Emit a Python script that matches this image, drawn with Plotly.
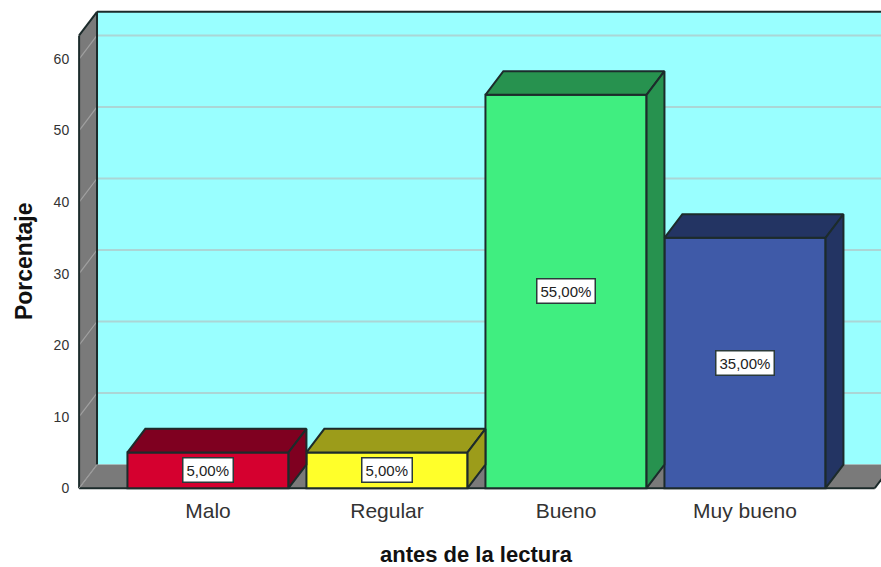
import plotly.graph_objects as go

categories = ["Malo", "Regular", "Bueno", "Muy bueno"]
values = [5, 5, 55, 35]
labels = ["5,00%", "5,00%", "55,00%", "35,00%"]
front_colors = ["#D5002F", "#FFFF2A", "#40EE80", "#3F5AA8"]
shade_colors = ["#7F0020", "#9C9C1A", "#27924F", "#233463"]
y_ticks = [0, 10, 20, 30, 40, 50, 60]

BAR_W = 0.9
DX = 0.1      # depth of the 3D box, x units
DY = 3.3      # depth of the 3D box, y units
X0 = -0.72    # front-left corner of the floor
X1 = 3.725    # front-right corner of the floor
X_RANGE = [-0.7374, 3.7598]
Y_TOP = 66.6
Y_RANGE = [-0.4, 67.0]
EDGE = "#1c2b2b"
WALL = "#7A7A7A"

xs = list(range(len(categories)))
fig = go.Figure()


def path(points):
    return "M " + " L ".join(f"{x} {y}" for x, y in points) + " Z"


shapes = [
    # back wall
    dict(type="path", path=path([(X0 + DX, DY), (X1 + DX + 1, DY), (X1 + DX + 1, Y_TOP), (X0 + DX, Y_TOP)]),
         fillcolor="#99FFFF", line=dict(width=0)),
    # floor
    dict(type="path", path=path([(X0, 0), (X0 + DX, DY), (X1 + DX, DY), (X1, 0)]),
         fillcolor=WALL, line=dict(width=0)),
    # left wall
    dict(type="path", path=path([(X0, 0), (X0 + DX, DY), (X0 + DX, Y_TOP), (X0, Y_TOP - DY)]),
         fillcolor=WALL, line=dict(width=0)),
]
for t in y_ticks:
    shapes.append(dict(type="line", x0=X0, y0=t, x1=X0 + DX, y1=t + DY,
                       line=dict(color="#A0A0A0", width=1.2)))
    if t > 0:
        shapes.append(dict(type="line", x0=X0 + DX, y0=t + DY, x1=X1 + DX + 1, y1=t + DY,
                           line=dict(color="#ABD6D6", width=2)))
# outlines
for a, b in [((X0, 0), (X0, Y_TOP - DY)), ((X0, Y_TOP - DY), (X0 + DX, Y_TOP)),
             ((X0 + DX, Y_TOP), (X1 + DX + 1, Y_TOP)), ((X0 + DX, DY), (X0 + DX, Y_TOP)),
             ((X0, 0), (X1, 0)), ((X1, 0), (X1 + DX, DY)), ((X0, 0), (X0 + DX, DY))]:
    w = 1.0 if a == (X0, 0) and b == (X0 + DX, DY) else 2
    c = "#9a9a9a" if w == 1.0 else EDGE
    shapes.append(dict(type="line", x0=a[0], y0=a[1], x1=b[0], y1=b[1], line=dict(color=c, width=w)))
for s in shapes:
    s["layer"] = "below"

fig.add_trace(go.Bar(x=xs, y=values, width=BAR_W, marker=dict(color=front_colors, line=dict(color=EDGE, width=2)),
                     hoverinfo="skip", showlegend=False))

for x, v, shade in zip(xs, values, shade_colors):
    l, r = x - BAR_W / 2, x + BAR_W / 2
    fig.add_trace(go.Scatter(x=[l, l + DX, r + DX, r, l], y=[v, v + DY, v + DY, v, v], mode="lines", fill="toself",
                             fillcolor=shade, line=dict(color=EDGE, width=2), hoverinfo="skip", showlegend=False))
    fig.add_trace(go.Scatter(x=[r, r + DX, r + DX, r, r], y=[0, DY, v + DY, v, 0], mode="lines", fill="toself",
                             fillcolor=shade, line=dict(color=EDGE, width=2), hoverinfo="skip", showlegend=False))

annotations = [
    dict(x=x, y=v / 2, text=t, showarrow=False, bgcolor="white", bordercolor="#2a3a3a", borderwidth=1.5, borderpad=3,
         font=dict(family="Liberation Sans", size=15, color="#222222"))
    for x, v, t in zip(xs, values, labels)
]
annotations.append(dict(text="<b>antes de la lectura</b>", xref="paper", yref="paper", x=0.4975, y=-0.131,
                        showarrow=False, xanchor="center", yanchor="middle",
                        font=dict(size=22, color="#111111")))
annotations.append(dict(text="<b>Porcentaje</b>", xref="paper", yref="paper", x=-0.0646, y=0.477, textangle=-90,
                        showarrow=False, xanchor="center", yanchor="middle",
                        font=dict(size=23, color="#111111")))

fig.update_layout(
    width=881, height=567, margin=dict(l=76, r=0, t=9, b=76, autoexpand=False),
    paper_bgcolor="white", plot_bgcolor="white", shapes=shapes, annotations=annotations,
    font=dict(family="Liberation Sans"),
    xaxis=dict(range=X_RANGE, tickvals=xs, ticktext=categories, showgrid=False, zeroline=False, showline=False,
               ticks="outside", ticklen=1, tickcolor="rgba(0,0,0,0)",
               tickfont=dict(size=21, color="#333333")),
    yaxis=dict(range=Y_RANGE, tickvals=y_ticks, showgrid=False, zeroline=False, showline=False,
               ticks="outside", ticklen=3, tickcolor="rgba(0,0,0,0)",
               tickfont=dict(size=14, color="#333333")),
)

fig.write_html("out.html", post_script="document.body.style.margin='0';", config={"displayModeBar": False})
